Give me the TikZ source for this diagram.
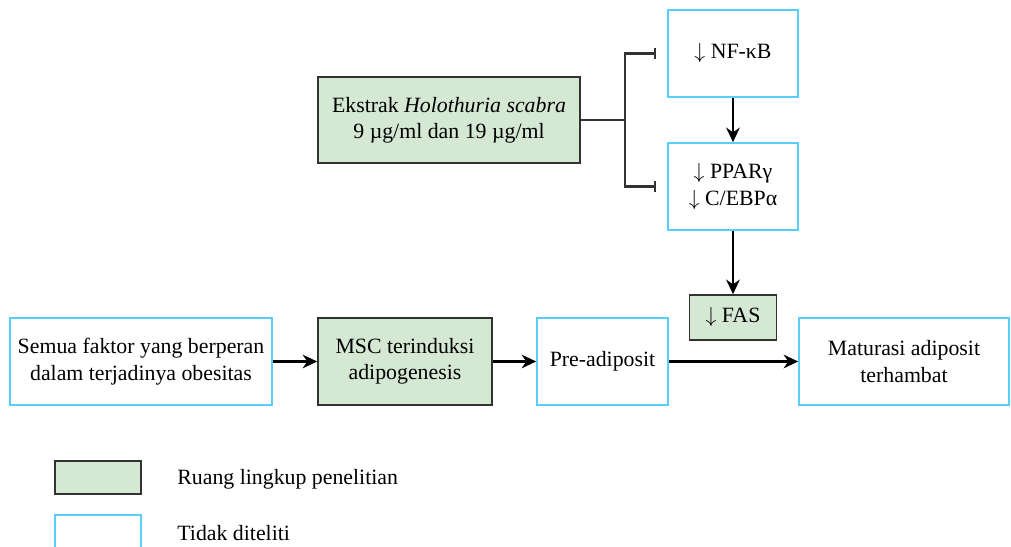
\documentclass[tikz,border=0pt]{standalone}
\usepackage{fontspec}
\setmainfont{Liberation Serif}
\usetikzlibrary{positioning}
\usetikzlibrary{arrows.meta}
\definecolor{hijau}{RGB}{213,232,212}
\definecolor{biru}{RGB}{90,205,255}
\definecolor{garis}{RGB}{50,50,50}
\newcommand{\turun}{$\downarrow$}
\tikzstyle{line} = [draw, line width=1.4pt, -{Stealth[length=8pt,width=7.5pt]}]
\tikzstyle{hambat} = [draw, line width=1.4pt, garis, -{Bar[width=6.5pt,line width=1.4pt]}, shorten >=6pt]

\begin{document}
\begin{tikzpicture}[x=0.55pt, y=-0.55pt, font=\fontsize{12}{14.5}\selectfont]

	\useasboundingbox (0,0) rectangle (1011,547);

	\tikzstyle{diteliti} = [rectangle, draw=garis, fill=hijau, line width=0.9pt, align=center, inner sep=0pt, minimum height=47.85pt]
	\tikzstyle{tidak} = [rectangle, draw=biru, fill=white, line width=0.9pt, align=center, inner sep=0pt, minimum height=47.85pt]

	% Place nodes
	\node [diteliti, minimum width=144.1pt, minimum height=47.3pt] (ekstrak) at (449,120) {Ekstrak \textit{Holothuria scabra}\\9 µg/ml dan 19 µg/ml};
	\node [tidak, minimum width=71.5pt] (nfkb) at (733,53.5) {\turun\ NF-κB};
	\node [tidak, minimum width=71.5pt] (ppar) at (733,186.5) {\turun\ PPARγ\\\turun\ C/EBPα};
	\node [diteliti, minimum width=47.85pt, minimum height=24.75pt] (fas) at (733,317.5) {\turun\ FAS};
	\node [tidak, minimum width=144.1pt] (faktor) at (141,361.5) {Semua faktor yang berperan\\dalam terjadinya obesitas};
	\node [diteliti, minimum width=95.7pt] (msc) at (405,361.5) {MSC terinduksi\\adipogenesis};
	\node [tidak, minimum width=72.05pt] (preadiposit) at (602.5,361.5) {Pre-adiposit};
	\node [tidak, minimum width=115.5pt] (maturasi) at (904,361.5) {Maturasi adiposit\\terhambat};
	\coordinate (cabang) at (625,120);

	% Legend
	\node [diteliti, minimum width=47.3pt, minimum height=18.15pt] (ket1) at (98,477.5) {};
	\node [tidak, minimum width=47.3pt, minimum height=18.15pt] (ket2) at (98,531.5) {};
	\node [anchor=west] (teks1) at (171,479) {Ruang lingkup penelitian};
	\node [anchor=west] (teks2) at (171,533) {Tidak diteliti};

	\draw [line width=1.4pt, garis] (ekstrak.east) -- (cabang);
	\path [hambat] (cabang) |- (nfkb.west);
	\path [hambat] (cabang) |- (ppar.west);
	\path [line] (nfkb) -- (ppar);
	\path [line] (ppar) -- (fas);
	\path [line] (faktor) -- (msc);
	\path [line] (msc) -- (preadiposit);
	\path [line] (preadiposit) -- (maturasi);

\end{tikzpicture}
\end{document}
